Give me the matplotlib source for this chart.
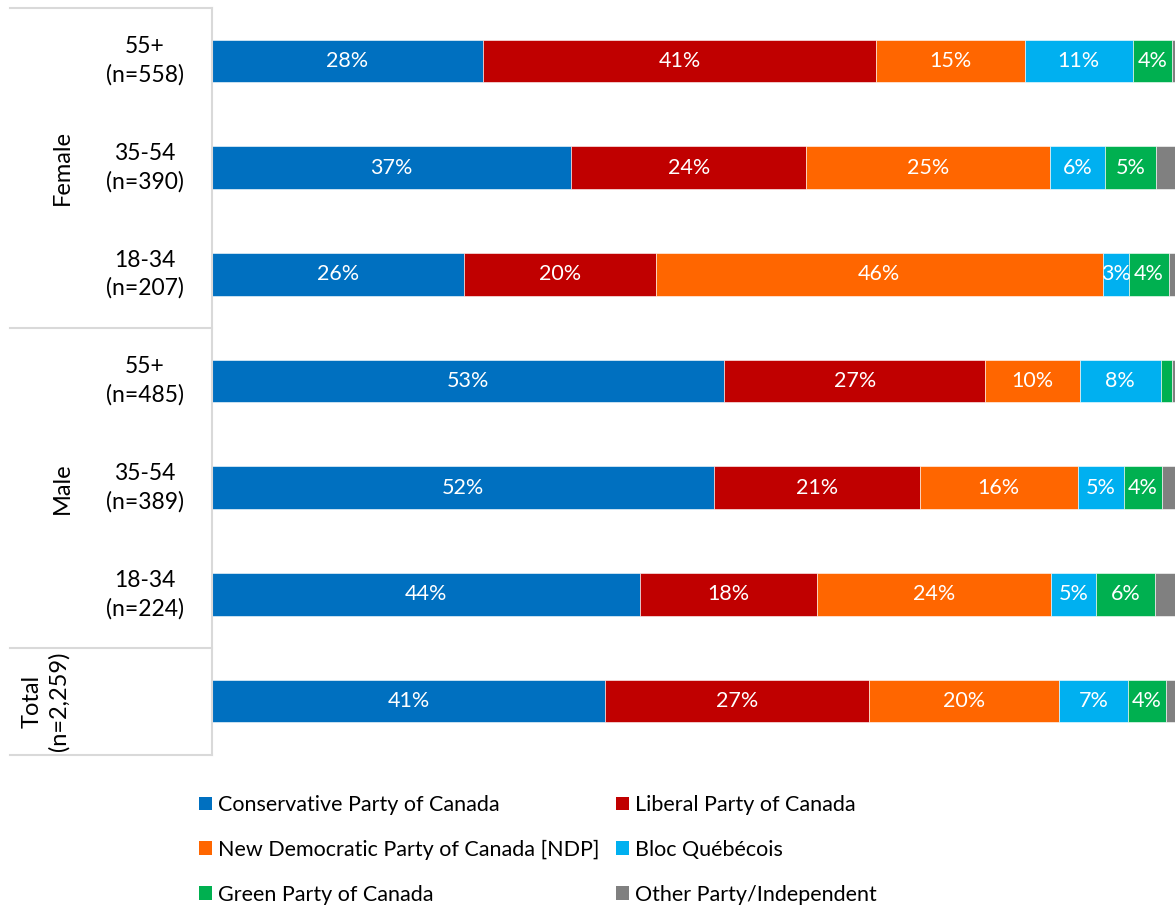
import matplotlib.pyplot as plt
import matplotlib.transforms as mtransforms
from matplotlib.patches import Patch

plt.rcParams['font.family'] = ['Lato', 'DejaVu Sans']

# rows, top to bottom
age_labels = ['55+\n(n=558)', '35-54\n(n=390)', '18-34\n(n=207)',
              '55+\n(n=485)', '35-54\n(n=389)', '18-34\n(n=224)', '']
groups = ['Female', 'Male', 'Total\n(n=2,259)']
group_rows = [(0, 2), (3, 5), (6, 6)]

parties = ['Conservative Party of Canada', 'Liberal Party of Canada',
           'New Democratic Party of Canada [NDP]', 'Bloc Québécois',
           'Green Party of Canada', 'Other Party/Independent']
colors = ['#0070C0', '#C00000', '#FF6600', '#00B0F0', '#00B050', '#808080']

conservative = [28.1, 37.3, 26.2, 53.2, 52.1, 44.4, 40.8]
liberal = [40.9, 24.4, 19.9, 27.1, 21.4, 18.4, 27.4]
ndp = [15.4, 25.3, 46.4, 9.8, 16.4, 24.3, 19.8]
bloc = [11.2, 5.7, 2.7, 8.4, 4.8, 4.7, 7.1]
green = [4.1, 5.3, 4.2, 1.2, 3.9, 6.1, 4.0]
other = [0.3, 2.0, 0.6, 0.3, 1.4, 2.1, 0.9]
series = [conservative, liberal, ndp, bloc, green, other]

W, H = 1175, 907
fig = plt.figure(figsize=(W / 100, H / 100), dpi=100)
ax = fig.add_axes([212 / W, 1 - 754.5 / H, (W - 212) / W, 747 / H])

ypos = list(range(len(age_labels)))
left = [0.0] * len(ypos)
for vals, col in zip(series, colors):
    bars = ax.barh(ypos, vals, left=left, height=0.4, color=col,
                   edgecolor='white', linewidth=0.4)
    for b, v in zip(bars, vals):
        if v >= 2.5:
            ax.text(b.get_x() + b.get_width() / 2, b.get_y() + b.get_height() / 2,
                    f'{round(v)}%', ha='center', va='center', color='white', fontsize=15.5)
    left = [l + v for l, v in zip(left, vals)]

ax.set_xlim(0, 100)
ax.set_ylim(6.5, -0.5)
ax.set_xticks([])
ax.set_yticks([])
for s in ['top', 'right', 'bottom']:
    ax.spines[s].set_visible(False)
ax.spines['left'].set_color('#d9d9d9')
ax.spines['left'].set_linewidth(1.5)

blend = mtransforms.blended_transform_factory(fig.transFigure, ax.transData)
for y, lab in zip(ypos, age_labels):
    ax.text(145 / W, y, lab, transform=blend, ha='center', va='center',
            fontsize=16.5, linespacing=1.4)
for g, (a, b) in zip(groups, group_rows):
    gx = 46 if a == b else 62
    ax.text(gx / W, (a + b) / 2, g, transform=blend, ha='center', va='center',
            rotation=90, fontsize=17, linespacing=1.3, multialignment='center')

for y in [-0.5, 2.5, 5.5, 6.5]:
    ax.plot([10 / W, 212 / W], [y, y], transform=blend, color='#d9d9d9',
            linewidth=1.5, clip_on=False)

# legend is filled column by column, reference reads row by row
order = [0, 2, 4, 1, 3, 5]
handles = [Patch(facecolor=colors[i], edgecolor='none') for i in order]
fig.legend(handles, [parties[i] for i in order], loc='upper left', ncol=2,
           frameon=False, bbox_to_anchor=(199 / W, 1 - 795 / H), fontsize=15.5,
           handlelength=0.6, handleheight=0.6, handletextpad=0.3,
           columnspacing=0.75, labelspacing=1.15, borderaxespad=0, borderpad=0)

fig.savefig('out.png', dpi=100)
